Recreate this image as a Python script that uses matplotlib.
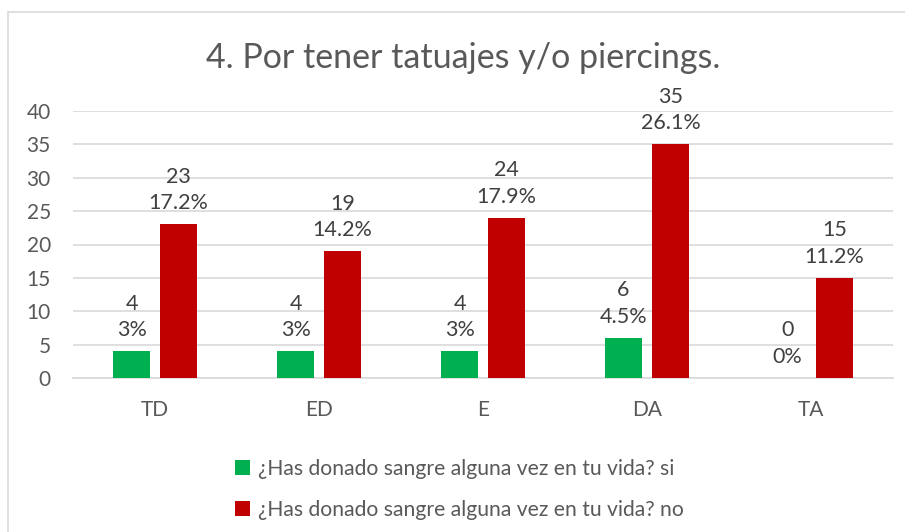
import matplotlib
matplotlib.use('Agg')
import matplotlib.pyplot as plt
import numpy as np
from matplotlib.patches import Rectangle

categories = ['TD', 'ED', 'E', 'DA', 'TA']
si_counts = [4, 4, 4, 6, 0]
no_counts = [23, 19, 24, 35, 15]
si_pct = ['3%', '3%', '3%', '4.5%', '0%']
no_pct = ['17.2%', '14.2%', '17.9%', '26.1%', '11.2%']
series_names = ['¿Has donado sangre alguna vez en tu vida? si',
                '¿Has donado sangre alguna vez en tu vida? no']
title = '4. Por tener tatuajes y/o piercings.'

green = '#00B050'
red = '#C00000'
grid_c = '#D9D9D9'
txt_c = '#595959'
lab_c = '#404040'

plt.rcParams['font.family'] = ['Lato', 'DejaVu Sans']

fig = plt.figure(figsize=(9.05, 5.32), dpi=100)
# chart frame
fig.patches.append(Rectangle((8 / 905, -0.05), 1.0, 1 - 12 / 532 + 0.05, transform=fig.transFigure,
                             fill=False, edgecolor=grid_c, linewidth=1.2))

ax = fig.add_axes([73 / 905, 1 - 378 / 532, 820 / 905, 267 / 532])
x = np.arange(len(categories))
w = 0.226
off = 0.143
b1 = ax.bar(x - off, si_counts, w, color=green, label=series_names[0], zorder=3)
b2 = ax.bar(x + off, no_counts, w, color=red, label=series_names[1], zorder=3)

for bars, counts, pcts in [(b1, si_counts, si_pct), (b2, no_counts, no_pct)]:
    for r, c, p in zip(bars, counts, pcts):
        ax.annotate(f'{c}\n{p}', (r.get_x() + r.get_width() / 2, r.get_height()),
                    xytext=(0, 8), textcoords='offset points', ha='center', va='bottom',
                    fontsize=15.5, color=lab_c, linespacing=1.4)

ax.set_xlim(-0.5, len(categories) - 0.5)
ax.set_ylim(0, 40)
ax.set_yticks(np.arange(0, 41, 5))
ax.set_xticks(x)
ax.set_xticklabels(categories)
ax.yaxis.grid(True, color=grid_c, linewidth=1.2, zorder=0)
for s in ['top', 'right', 'left']:
    ax.spines[s].set_visible(False)
ax.spines['bottom'].set_color(grid_c)
ax.spines['bottom'].set_linewidth(1.2)
ax.tick_params(axis='both', length=0, labelsize=15, colors=txt_c)
ax.tick_params(axis='x', pad=16)
ax.tick_params(axis='y', pad=16)

fig.text(463 / 905, 1 - 58 / 532, title, ha='center', va='center', fontsize=24.5, color=txt_c)

leg = fig.legend(handles=[b1, b2], loc='upper left', bbox_to_anchor=(216 / 905, 1 - 440 / 532),
                 frameon=False, fontsize=15.2, labelcolor=txt_c, handlelength=0.7, handleheight=0.7,
                 handletextpad=0.4, labelspacing=1.0)

fig.savefig('out.png', dpi=100, facecolor='white')
